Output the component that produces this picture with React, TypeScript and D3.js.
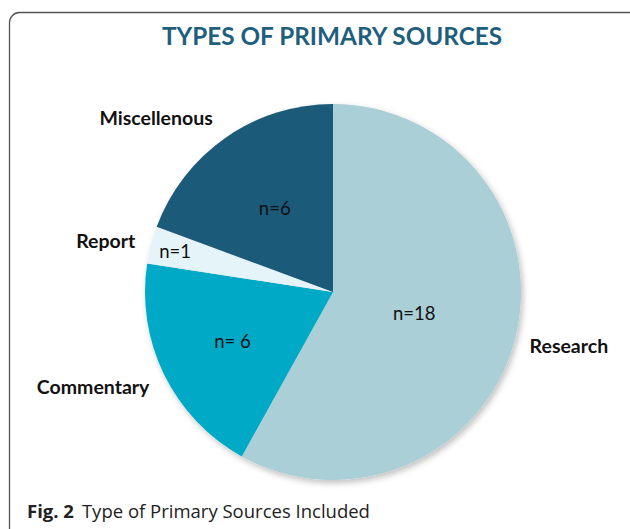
import React from "react";
import * as d3 from "d3";

const categories = ["Research", "Commentary", "Report", "Miscellenous"];
const values = [18, 6, 1, 6];
const valueLabels = ["n=18", "n= 6", "n=1", "n=6"];
const colors = ["#ABCFD6", "#00AAC7", "#E5F4F8", "#1D5A7A"];
const title = "TYPES OF PRIMARY SOURCES";
const captionBold = "Fig. 2";
const captionText = "Type of Primary Sources Included";

// layout (polar offsets from slice mid-angle, in px)
const innerDist = [84, 112, 163, 102];
const outerPos = [
  { a: 102.9, d: 242 },
  { a: 248.4, d: 258 },
  { a: 282.7, d: 233 },
  { a: 314.5, d: 248 },
];

const W = 630;
const H = 529;
const cx = 333;
const cy = 292;
const R = 188;

export default function App() {
  const pie = d3.pie<number>().sort(null).value((d) => d);
  const arcs = pie(values);
  const arc = d3.arc<d3.PieArcDatum<number>>().innerRadius(0).outerRadius(R);
  const calibri = "Lato, 'Open Sans', sans-serif";
  const polar = (deg: number, d: number) => {
    const r = (deg * Math.PI) / 180;
    return [cx + d * Math.sin(r), cy - d * Math.cos(r)];
  };
  return (
    <svg
      width={W}
      height={H}
      style={{ position: "absolute", left: 0, top: 0, background: "#fff" }}
    >
      <defs>
        <filter id="sh" x="-20%" y="-20%" width="140%" height="140%">
          <feDropShadow dx="2" dy="3" stdDeviation="3" floodColor="#000" floodOpacity="0.25" />
        </filter>
      </defs>
      <rect x={0} y={0} width={W} height={H} fill="#fff" />
      <rect
        x={9.5}
        y={12.5}
        width={640}
        height={560}
        rx={10}
        ry={10}
        fill="none"
        stroke="#555"
        strokeWidth={1.3}
      />
      <text
        x={332}
        y={45}
        textAnchor="middle"
        fontFamily={calibri}
        fontWeight={700}
        fontSize={24.3}
        fill="#1F5F7E"
      >
        {title}
      </text>
      <g transform={`translate(${cx},${cy})`} filter="url(#sh)">
        {arcs.map((a, i) => (
          <path key={categories[i]} d={arc(a) || ""} fill={colors[i]} />
        ))}
      </g>
      {arcs.map((a, i) => {
        const mid = (((a.startAngle + a.endAngle) / 2) * 180) / Math.PI;
        const [x, y] = polar(mid, innerDist[i]);
        return (
          <text
            key={"v" + i}
            x={x}
            y={y}
            dy="0.35em"
            textAnchor="middle"
            fontFamily={calibri}
            fontSize={18.5}
            fill="#111"
          >
            {valueLabels[i]}
          </text>
        );
      })}
      {categories.map((c, i) => {
        const [x, y] = polar(outerPos[i].a, outerPos[i].d);
        return (
          <text
            key={"c" + i}
            x={x}
            y={y}
            dy="0.35em"
            textAnchor="middle"
            fontFamily={calibri}
            fontWeight={700}
            fontSize={19.5}
            fill="#111"
          >
            {c}
          </text>
        );
      })}
      <text x={27} y={518} fontFamily="'Open Sans', sans-serif" fontSize={18.5} fill="#222">
        <tspan fontWeight={700}>{captionBold}</tspan>
        <tspan dx={8}>{captionText}</tspan>
      </text>
    </svg>
  );
}
